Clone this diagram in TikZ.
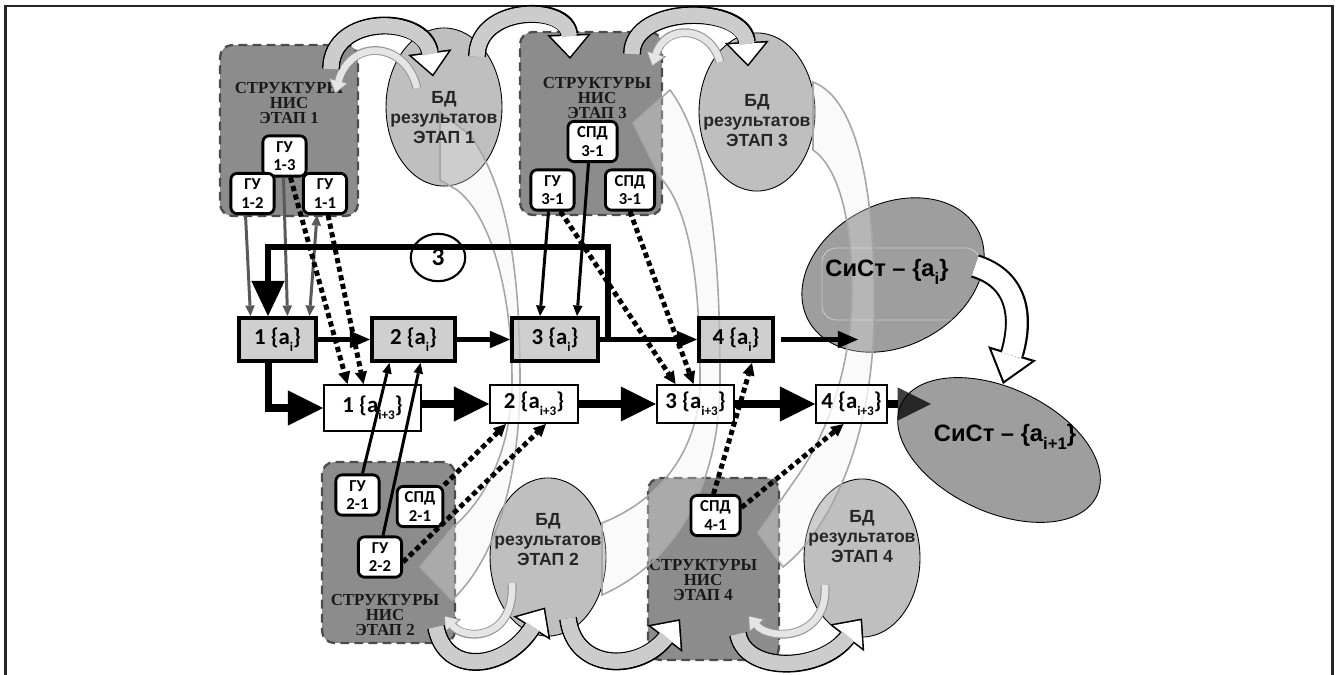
\documentclass[tikz,border=0pt]{standalone}
\usepackage{fontspec}
\setmainfont{Liberation Sans}
\newfontfamily\carl{Carlito}
\newfontfamily\tms{Liberation Serif}
\usetikzlibrary{arrows.meta,calc,shapes.geometric}

\newcommand{\subp}[1]{\raisebox{-4pt}{\fontsize{7.5}{7.5}\selectfont #1}}
\newcommand{\subs}[1]{\raisebox{-5pt}{\fontsize{9.5}{9.5}\selectfont #1}}
% curved block arrow: black outline, white head, grey body
\newcommand{\blockarr}[1]{%
  \draw[line width=10.2pt, black, -{Triangle[length=14pt,width=25pt,line width=0pt]}] #1;
  \draw[line width=8.4pt, white, shorten >=1.35pt, -{Triangle[length=11.75pt,width=21pt,line width=0pt]}] #1;
  \draw[line width=8.4pt, black!20, shorten >=12.8pt] #1;}
% thin grey return arrow
\newcommand{\backarr}[1]{%
  \draw[line width=5pt, black!42, -{Triangle[length=8pt,width=12pt,line width=0pt]}] #1;
  \draw[line width=3.8pt, black!10, shorten >=1pt, -{Triangle[length=6.4pt,width=9.6pt,line width=0pt]}] #1;}

\begin{document}
\begin{tikzpicture}[x=0.02cm, y=-0.02cm, >={Triangle[length=6pt,width=5.5pt,line width=0pt]},
  nis/.style={draw=black!70, line width=1.3pt, dash pattern=on 5pt off 3pt, fill=black!45, rounded corners=7pt},
  nislbl/.style={font=\tms\bfseries\fontsize{9.6}{8.6}\selectfont, align=center, text=black!90},
  bd/.style={ellipse, draw, line width=0.5pt, fill=black!25, minimum width=66pt, minimum height=90pt},
  bdlbl/.style={font=\bfseries\fontsize{10}{11.4}\selectfont, align=center, text=black!85},
  sist/.style={ellipse, draw, line width=0.5pt, fill=black!38},
  abox/.style={draw, line width=2.3pt, fill=black!25, fill opacity=0.75, text opacity=1, draw opacity=1, minimum height=24.4pt, inner sep=1pt, font=\carl\bfseries\fontsize{13}{13}\selectfont},
  bbox/.style={draw, line width=1.2pt, fill=white, fill opacity=0.75, text opacity=1, draw opacity=1, minimum height=21.6pt, inner sep=1pt, font=\carl\bfseries\fontsize{13}{13}\selectfont},
  unitbox/.style={draw, line width=1.6pt, fill=white, rounded corners=3.5pt, minimum width=24.6pt, minimum height=22.9pt, inner sep=1pt, align=center, font=\carl\bfseries\fontsize{9.5}{10.5}\selectfont},
  flow/.style={line width=3.2pt, -{Triangle[length=11.5pt,width=10pt,line width=0pt]}},
  bigflow/.style={line width=4pt, -{Triangle[length=20pt,width=20pt,line width=0pt]}},
  link/.style={line width=1.7pt, ->},
  spd/.style={line width=2.8pt, dash pattern=on 3pt off 2pt, -{Triangle[length=7pt,width=7pt,line width=0pt]}},
  ribbon/.style={draw=black!35, line width=0.9pt, fill=black!6, fill opacity=0.3}]
\useasboundingbox (0,0) rectangle (1337,675);
\draw[line width=1.7pt, black!85] (5.5,675) |- (1332,6) -- (1332,675);

%structures
\node[nis, minimum width=78.5pt, minimum height=97.3pt] (nis1) at (289,130.5) {};
\node[nis, minimum width=80.8pt, minimum height=104.1pt] (nis3) at (591,123.5) {};
\node[nis, minimum width=75.7pt, minimum height=103pt] (nis2) at (388.5,552.5) {};
\node[nis, minimum width=74.6pt, minimum height=103.6pt] (nis4) at (713.5,569) {};
\node[nislbl] (nis1txt) at (289,103) {СТРУКТУРЫ\\НИС\\ЭТАП 1};
\node[nislbl] (nis3txt) at (597,98) {СТРУКТУРЫ\\НИС\\ЭТАП 3};
\node[nislbl] (nis2txt) at (385,615) {СТРУКТУРЫ\\НИС\\ЭТАП 2};
\node[nislbl] (nis4txt) at (703,580) {СТРУКТУРЫ\\НИС\\ЭТАП 4};

%data bases and systems
\node[bd] (bd1) at (444,107) {};
\node[bd] (bd3) at (757,112) {};
\node[bd] (bd2) at (548,557) {};
\node[bd] (bd4) at (862,558) {};
\node[sist, minimum width=109.3pt, minimum height=80.8pt, rotate=28] (sist1) at (893,275) {};
\node[sist, minimum width=122.9pt, minimum height=70.6pt, rotate=-25] (sist2) at (999,450) {};
\draw[white, line width=0.5pt, rounded corners=8pt, opacity=0.45] (822,248) rectangle (980,320);

%return arrows
\backarr{($(bd1)+(-27,-19)$) .. controls +(-12,-48) and +(15,-55) .. ($(nis1.north)+(46,50)$)}
\backarr{($(bd3)+(-37,-50)$) .. controls +(-10,-37) and +(13,-43) .. ($(nis3.north)+(61,36)$)}
\backarr{($(bd2)+(-36,26)$) .. controls +(3,57) and +(21,26) .. ($(nis2.south)+(55.5,-29)$)}
\backarr{($(bd4)+(-37,27)$) .. controls +(3,55) and +(22,26) .. ($(nis4.south)+(34.5,-46)$)}

%block arrows
\blockarr{($(nis1.north)+(42,25)$) .. controls +(0,-55) and +(-8,-62) .. ($(bd1.north)+(-11,49)$)}
\blockarr{($(bd1.north)+(33,29)$) .. controls +(0,-52) and +(-2,-55) .. ($(nis3.north)+(-21,28)$)}
\blockarr{($(nis3.north)+(41,23)$) .. controls +(0,-50) and +(-3,-62) .. ($(bd3.north)+(-9,34)$)}
\blockarr{($(nis2.south)+(47.5,-17)$) .. controls +(9,49) and +(-40,63) .. ($(bd2.south)+(-3,-29)$)}
\blockarr{($(bd2.south)+(20,-18)$) .. controls +(7,54) and +(-40,52) .. ($(nis4.south)+(-33.5,-42)$)}
\blockarr{($(nis4.south)+(24.5,-27)$) .. controls +(7,39) and +(-42,54) .. ($(bd4.south)+(0,-19)$)}
\draw[line width=13.7pt, black, -{Triangle[length=18.2pt,width=28.5pt,line width=0pt]}] ($(sist1)+(82,-9)$) .. controls +(45,14) and +(19,-64) .. ($(sist2)+(4,-66)$);
\draw[line width=11.3pt, white, shorten >=1.95pt, -{Triangle[length=15pt,width=23.6pt,line width=0pt]}] ($(sist1)+(82,-9)$) .. controls +(45,14) and +(19,-64) .. ($(sist2)+(4,-66)$);

%feedback ribbons
\filldraw[ribbon] (440,112) -- (440,180) -- (457,190) .. controls (490,215) and (512,290) .. (512,380) .. controls (512,450) and (485,500) .. (453,527) -- (420,567) -- (452,600) .. controls (495,560) and (520,480) .. (520,380) .. controls (520,280) and (510,190) .. (470,135) -- cycle;
\filldraw[ribbon] (602,523) .. controls (660,500) and (700,450) .. (700,380) .. controls (700,280) and (690,210) .. (660,177) -- (633,123) -- (670,90) .. controls (715,150) and (720,280) .. (720,380) .. controls (720,480) and (680,560) .. (602,595) -- cycle;
\filldraw[ribbon] (813,82) .. controls (860,100) and (876,200) .. (874,320) .. controls (872,440) and (830,530) .. (783,567) -- (758,533) -- (797,477) .. controls (830,430) and (852,360) .. (852,290) .. controls (852,210) and (835,165) .. (813,150) -- cycle;

%stages
\node[abox, minimum width=43.8pt] (a1) at (277.5,339.5) {1 \{a\subp{i}\}};
\node[abox, minimum width=47.2pt] (a2) at (413.5,339.5) {2 \{a\subp{i}\}};
\node[abox, minimum width=48.9pt] (a3) at (555,339.5) {3 \{a\subp{i}\}};
\node[abox, minimum width=42.1pt] (a4) at (736,339.5) {4 \{a\subp{i}\}};
\node[bbox, minimum width=55.1pt, minimum height=26.1pt] (b1) at (372.5,408) {1 \{a\subp{i+3}\}};
\node[bbox, minimum width=50pt] (b2) at (534,404) {2 \{a\subp{i+3}\}};
\node[bbox, minimum width=43.8pt] (b3) at (695.5,404) {3 \{a\subp{i+3}\}};
\node[bbox, minimum width=40.3pt] (b4) at (851.5,404) {4 \{a\subp{i+3}\}};
\node[ellipse, draw, line width=1.2pt, fill=white, minimum width=31pt, minimum height=27pt, inner sep=0pt, font=\carl\bfseries\fontsize{14.5}{14.5}\selectfont] (three) at (438,257.5) {\raisebox{-2pt}{3}};

%units
\node[unitbox] (gu13) at (284.5,156) {ГУ\\1-3};
\node[unitbox] (gu12) at (252.5,193.5) {ГУ\\1-2};
\node[unitbox] (gu11) at (325,193.5) {ГУ\\1-1};
\node[unitbox, minimum width=28pt] (spd31a) at (592.5,141.5) {СПД\\3-1};
\node[unitbox] (gu31) at (552.5,190) {ГУ\\3-1};
\node[unitbox, minimum width=28pt] (spd31b) at (630,190) {СПД\\3-1};
\node[unitbox] (gu21) at (357.5,495) {ГУ\\2-1};
\node[unitbox, minimum width=26pt] (spd21) at (420,506.5) {СПД\\2-1};
\node[unitbox] (gu22) at (380,557) {ГУ\\2-2};
\node[unitbox, minimum width=28pt] (spd41) at (715.5,515.5) {СПД\\4-1};

%labels
\node[bdlbl] (bd1txt) at (444,118) {БД\\результатов\\ЭТАП 1};
\node[bdlbl] (bd3txt) at (757,121) {БД\\результатов\\ЭТАП 3};
\node[bdlbl] (bd2txt) at (548,540) {БД\\результатов\\ЭТАП 2};
\node[bdlbl] (bd4txt) at (862,537) {БД\\результатов\\ЭТАП 4};
\node[font=\bfseries\fontsize{13.5}{14}\selectfont] (sist1txt) at (887,272) {СиСт – \{a\subs{i}\}};
\node[font=\bfseries\fontsize{13.5}{14}\selectfont] (sist2txt) at (1005,437) {СиСт – \{a\subs{i+1}\}};

%links from units
\draw[link, black!65] ($(gu12.south)+(-7,0)$) -- ($(a1.north)+(-27,0)$);
\draw[link, black!65] ($(gu13.south)+(-1,0)$) -- ($(a1.north)+(10,0)$);
\draw[link, black!65, <->] ($(gu11.south)+(-8,0)$) -- ($(a1.north)+(32,0)$);
\draw[spd] ($(gu13.south)+(6,0)$) -- ($(b1.north)+(-25,0)$);
\draw[spd] ($(gu11.south)+(3,0)$) -- ($(b1.north)+(-9,0)$);
\draw[link] ($(gu31.south)+(-4,0)$) -- ($(a3.north)+(-15,0)$);
\draw[link] ($(spd31a.south)+(-4,0)$) -- ($(a3.north)+(22,0)$);
\draw[spd] ($(gu31.south)+(8,0)$) -- ($(b3.north)+(-20,0)$);
\draw[spd] (spd31b.south) -- ($(b3.north)+(-2,0)$);
\draw[link] ($(gu21.north)+(5,0)$) -- ($(a2.south)+(-24,0)$);
\draw[link] ($(gu22.north)+(3,0)$) -- ($(a2.south)+(7,0)$);
\draw[spd] (spd21.north east) -- ($(b2.south)+(-28,0)$);
\draw[spd] ($(gu22.east)+(0,5)$) -- ($(b2.south)+(12,0)$);
\draw[spd] ($(spd41.north)+(-2,0)$) -- ($(a4.south)+(16,0)$);
\draw[spd] ($(spd41.east)+(0,-8)$) -- ($(b4.south)+(-8,0)$);

%flows
\coordinate (looptop) at (268,247);
\draw[line width=3.6pt, -{Triangle[length=20pt,width=19pt,line width=0pt]}] ($(a3.east)+(8,-2)$) |- (looptop) -- (looptop |- a1.north);
\draw[flow] (a1) -- (a2);
\draw[flow] (a2) -- (a3);
\draw[flow] (a3) -- (a4);
\draw[flow] ($(a4.east)+(6,0)$) -- ($(a4.east)+(83,0)$);
\draw[bigflow] ($(a1.south)+(-9,0)$) |- (b1.west);
\draw[bigflow] (b1.east |- b2.west) -- (b2.west);
\draw[bigflow] (b2) -- (b3);
\draw[bigflow] (b3) -- (b4);
\draw[line width=4pt] (b4.east) -- ++(10,0);
\draw[line width=4pt, opacity=0.75, -{Triangle[length=19pt,width=19pt,line width=0pt]}] ($(b4.east)+(9,0)$) -- ++(34,0);
\end{tikzpicture}
\end{document}
